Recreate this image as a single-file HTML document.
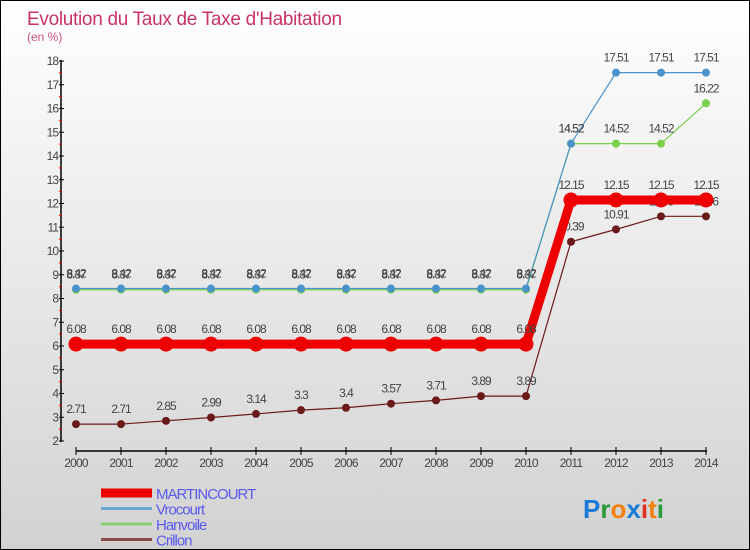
<!DOCTYPE html>
<html><head><meta charset="utf-8"><style>
body{margin:0}
#wrap{position:relative;width:748px;height:548px;border:1px solid #000;background:linear-gradient(#fff,#d2d2d2);font-family:"Liberation Sans",sans-serif;overflow:hidden}
svg text{font-family:"Liberation Sans",sans-serif}
</style></head><body>
<div id="wrap">
<svg id="c" width="748" height="548"></svg>
</div>
<script>
const years=[2000,2001,2002,2003,2004,2005,2006,2007,2008,2009,2010,2011,2012,2013,2014];
const martincourt=[6.08,6.08,6.08,6.08,6.08,6.08,6.08,6.08,6.08,6.08,6.08,12.15,12.15,12.15,12.15];
const vrocourt=[8.42,8.42,8.42,8.42,8.42,8.42,8.42,8.42,8.42,8.42,8.42,14.52,17.51,17.51,17.51];
const hanvoile=[8.37,8.37,8.37,8.37,8.37,8.37,8.37,8.37,8.37,8.37,8.37,14.52,14.52,14.52,16.22];
const crillon=[2.71,2.71,2.85,2.99,3.14,3.3,3.4,3.57,3.71,3.89,3.89,10.39,10.91,11.46,11.46];
const yTicks=[2,3,4,5,6,7,8,9,10,11,12,13,14,15,16,17,18];
const svg=document.getElementById('c');const NS='http://www.w3.org/2000/svg';
const X=i=>75+45*i, Y=v=>440-(v-2)*23.75;
function el(t,a,txt){const e=document.createElementNS(NS,t);for(const k in a)e.setAttribute(k,a[k]);if(txt!==undefined)e.textContent=txt;svg.appendChild(e);return e;}
let e;
e=el('text',{x:26,y:24,'font-size':19,fill:'#c8336a','letter-spacing':'-0.3'},"Evolution du Taux de Taxe d'Habitation");


e=el('text',{x:26,y:40,'font-size':12,fill:'#d05080'},"(en %)");


e=el('line',{x1:60,y1:59,x2:60,y2:441,stroke:'#000','stroke-width':1.5});


yTicks.forEach(v=>{
 e=el('line',{x1:58,y1:Y(v),x2:63,y2:Y(v),stroke:'#000'});
 
 
 if(v<18){e=el('line',{x1:58,y1:Y(v+0.5),x2:61,y2:Y(v+0.5),stroke:'#f00'});
 
 }
 e=el('text',{x:57,y:Y(v)+4,'font-size':12,fill:'#444','text-anchor':'end','letter-spacing':'-1'},v);
 
 
});
e=el('line',{x1:75,y1:450,x2:706,y2:450,stroke:'#000','stroke-width':1.5});


years.forEach((y,i)=>{
 e=el('line',{x1:X(i),y1:446,x2:X(i),y2:454,stroke:'#000'});
 
 
 e=el('text',{x:X(i),y:466,'font-size':12,fill:'#444','text-anchor':'middle','letter-spacing':'-0.8'},y);
 
 
});
function series(d,color,w,r,name){
 e=el('polyline',{points:d.map((v,i)=>X(i)+','+Y(v)).join(' '),fill:'none',stroke:color,'stroke-width':w,'stroke-linejoin':'round'});
 
 
 d.forEach((v,i)=>{
  e=el('circle',{cx:X(i),cy:Y(v),r:r,fill:color});
  
  
  e=el('text',{x:X(i),y:Y(v)-11,'font-size':12,fill:'#444','text-anchor':'middle','letter-spacing':'-1'},v);
  
  
 });
}
series(crillon,'#6b1a1a',1.2,4,'crillon');
series(hanvoile,'#7ad04a',1.2,4,'hanvoile');
series(vrocourt,'#4a92cc',1.2,4,'vrocourt');
series(martincourt,'#ee0000',9,7.5,'martincourt');
const leg=[['MARTINCOURT','#ee0000',9],['Vrocourt','#6aa8d0',3],['Hanvoile','#8ad070',3],['Crillon','#8a4a4a',3]];
leg.forEach((l,i)=>{
 const y=492+i*15.5;
 e=el('line',{x1:100,y1:y,x2:151,y2:y,stroke:l[1],'stroke-width':l[2]});
 
 
 e=el('text',{x:155,y:y+6,'font-size':15,fill:'#5a5aee','letter-spacing':'-1'},l[0]);
 
 
});
e=el('text',{x:582,y:517,'font-size':26,'font-weight':'bold'});


[['P','#1a7ad8'],['r','#2a9a3a'],['o','#f08010'],['x','#1a7ad8'],['i','#e03020'],['t','#f08010'],['i','#2a9a3a']].forEach(p=>{const s=document.createElementNS(NS,'tspan');s.setAttribute('fill',p[1]);s.textContent=p[0];e.appendChild(s);});
</script>
</body></html>
